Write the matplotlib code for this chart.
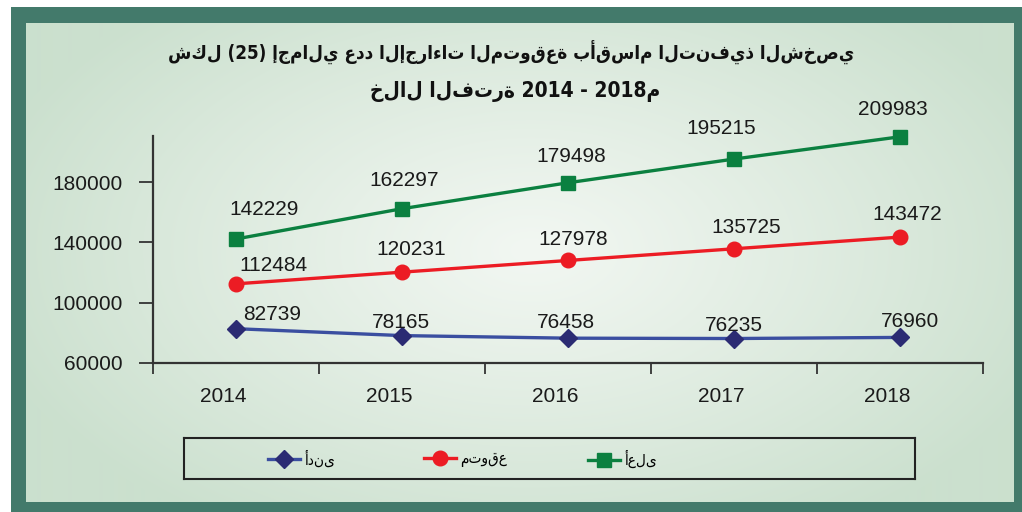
import numpy as np
import matplotlib
matplotlib.use('Agg')
import matplotlib.pyplot as plt
from matplotlib.patches import Rectangle
from matplotlib.lines import Line2D
import matplotlib.transforms as mtransforms

# ---------------- data ----------------
years = ['2014', '2015', '2016', '2017', '2018']
high = [142229, 162297, 179498, 195215, 209983]
expected = [112484, 120231, 127978, 135725, 143472]
low = [82739, 78165, 76458, 76235, 76960]
y_ticks = [60000, 100000, 140000, 180000]

title_line1 = 'شكل (25) إجمالي عدد الإجراءات المتوقعة بأقسام التنفيذ الشخصي'
title_line2 = 'خلال الفترة 2014 - 2018م'
label_low = 'أدنى'
label_expected = 'متوقع'
label_high = 'أعلى'

# label offsets (pixels, relative to each marker)
off_high = [(28, 24), (2, 23), (3, 21), (-13, 25), (-7, 22)]
off_exp = [(37, 13), (9, 17), (5, 15), (12, 16), (7, 17)]
off_low = [(36, 9), (-1, 8), (-2, 10), (0, 8), (10, 10)]

# ---------------- figure ----------------
W, H = 1022, 512
fig = plt.figure(figsize=(W / 100, H / 100), dpi=100, facecolor='white')

def fx(px):
    return px / W

def fy(py):
    return 1 - py / H

frame_col = '#437a6b'
frame_ax = fig.add_axes([fx(11), 0, 1 - fx(11), fy(7)], zorder=0)
frame_ax.set_facecolor(frame_col)
frame_ax.axis('off')
frame_ax.add_patch(Rectangle((0, 0), 1, 1, transform=frame_ax.transAxes,
                             facecolor=frame_col, edgecolor='none'))

# gradient background
ix0, iy0, ix1, iy1 = 26, 23, 1013, 502
bg = fig.add_axes([fx(ix0), fy(iy1), fx(ix1 - ix0), (iy1 - iy0) / H], zorder=1)
gw, gh = ix1 - ix0, iy1 - iy0
xx, yy = np.meshgrid(np.arange(gw), np.arange(gh))
cx, cy = 530 - ix0, 250 - iy0
r = np.sqrt(((xx - cx) / 560.0) ** 2 + ((yy - cy) / 330.0) ** 2)
r = np.clip(r, 0, 1) ** 1.1
c_in = np.array([242, 247, 242]) / 255.0
c_out = np.array([203, 224, 206]) / 255.0
img = c_in[None, None, :] * (1 - r[..., None]) + c_out[None, None, :] * r[..., None]
bg.imshow(img, aspect='auto', interpolation='bilinear')
bg.axis('off')

# main axes
ax = fig.add_axes([fx(153), fy(363), fx(983 - 153), (363 - 136) / H], zorder=2)
ax.set_facecolor('none')
x = np.arange(len(years))

c_green, c_red, c_blue_line, c_blue_mk = '#0b8040', '#ec1c24', '#3a4ea0', '#2b2b73'
lw = 2.4
st_high = dict(color=c_green, lw=lw, marker='s', ms=10.5, mfc=c_green, mec=c_green)
st_exp = dict(color=c_red, lw=lw, marker='o', ms=10.5, mfc=c_red, mec=c_red)
st_low = dict(color=c_blue_line, lw=lw, marker='D', ms=9.5, mfc=c_blue_mk, mec=c_blue_mk)
ax.plot(x, high, clip_on=False, zorder=3, **st_high)
ax.plot(x, expected, clip_on=False, zorder=3, **st_exp)
ax.plot(x, low, clip_on=False, zorder=3, **st_low)

num_font = dict(family='Liberation Sans', fontsize=15, color='#1a1a1a')
for vals, offs in ((high, off_high), (expected, off_exp), (low, off_low)):
    for xi, v, (dx, dy) in zip(x, vals, offs):
        ax.annotate(f'{v}', (xi, v), xytext=(dx, dy), textcoords='offset pixels',
                    ha='center', va='baseline', zorder=4, **num_font)

ax.set_xlim(-0.5, len(years) - 0.5)
ax.set_ylim(60000, 210500)
ax.set_yticks(y_ticks)
ax.set_yticklabels([str(t) for t in y_ticks], **num_font)
ax.set_xticks(np.arange(len(years) + 1) - 0.5)
ax.set_xticklabels([])
ax.set_xticks(x, minor=True)
ax.set_xticklabels(years, minor=True, **num_font)
ax.tick_params(axis='x', which='major', length=8, width=1.3, color='#333333', direction='out')
ax.tick_params(axis='x', which='minor', length=0, pad=17)
ax.tick_params(axis='y', length=10, width=1.3, color='#333333', direction='out', pad=12)
shift = mtransforms.ScaledTranslation(-13 / 100, 0, fig.dpi_scale_trans)
for lab in ax.get_xticklabels(minor=True):
    lab.set_transform(lab.get_transform() + shift)
for s in ('top', 'right'):
    ax.spines[s].set_visible(False)
for s in ('left', 'bottom'):
    ax.spines[s].set_color('#333333')
    ax.spines[s].set_linewidth(1.6)

# title
tfont = dict(family='DejaVu Sans', fontweight='bold', fontstretch='condensed',
             color='#111111', ha='center', va='center', zorder=5)
fig.text(fx(511), fy(52), title_line1, fontsize=13.5, **tfont)
fig.text(fx(515), fy(91), title_line2, fontsize=15, **tfont)

# legend box + legend entries
box_ax = fig.add_axes([fx(184), fy(479), fx(915 - 184), (479 - 438) / H], zorder=3)
box_ax.set_facecolor('none')
box_ax.set_xticks([])
box_ax.set_yticks([])
for s in box_ax.spines.values():
    s.set_color('#222222')
    s.set_linewidth(1.5)

entries = [(label_low, st_low, 268), (label_expected, st_exp, 424), (label_high, st_high, 588)]
for lab, st, x0 in entries:
    leg = fig.legend([Line2D([], [], **st)], [lab], loc='center left',
                     bbox_to_anchor=(fx(x0), fy(459)), frameon=False,
                     prop=dict(family='DejaVu Sans', stretch='condensed', size=11),
                     handlelength=2.1, handletextpad=0.25, borderpad=0, borderaxespad=0)
    leg.set_zorder(6)

fig.savefig('out.png', dpi=100, facecolor='white')
